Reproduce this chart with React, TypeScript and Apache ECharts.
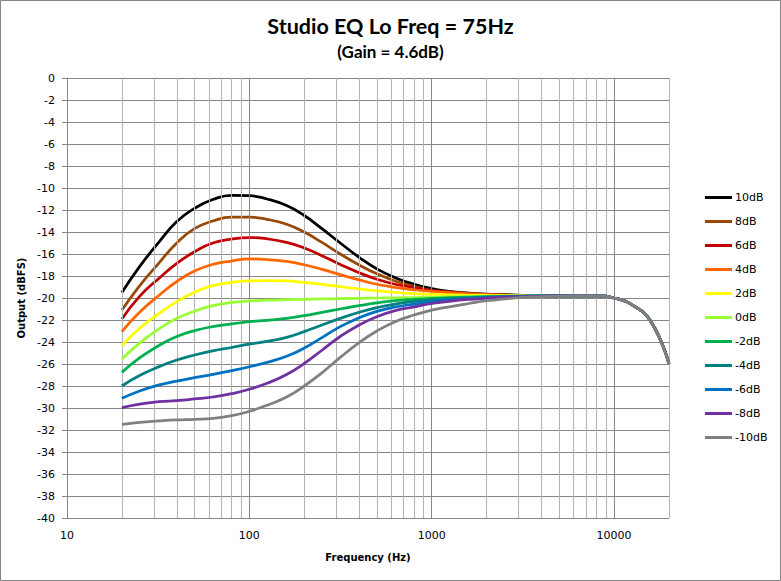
import React, { useEffect, useRef } from "react";
import * as echarts from "echarts";

// frequency points (Hz), third-octave steps
const freqs = [
  20, 25, 32, 40, 50, 63, 80, 100, 125, 160, 200, 250, 315, 400, 500, 630,
  800, 1000, 1250, 1600, 2000, 2500, 3150, 4000, 5000, 6300, 8000, 10000,
  12500, 16000, 20000,
];

const gain10 = [-19.5, -17.15, -14.9, -13.05, -11.85, -11.05, -10.67, -10.7, -11.0, -11.6, -12.5, -13.7, -15.0, -16.3, -17.35, -18.15, -18.75, -19.15, -19.4, -19.55, -19.65, -19.7, -19.75, -19.78, -19.8, -19.8, -19.8, -20.0, -20.6, -22.2, -26.0];
const gain8 = [-21.1, -18.9, -16.8, -15.0, -13.7, -13.0, -12.65, -12.65, -12.85, -13.3, -14.0, -14.95, -16.0, -17.0, -17.8, -18.45, -18.95, -19.3, -19.45, -19.58, -19.66, -19.72, -19.76, -19.79, -19.8, -19.8, -19.8, -20.0, -20.6, -22.2, -26.0];
const gain6 = [-21.9, -19.85, -18.2, -16.85, -15.8, -15.0, -14.64, -14.5, -14.62, -14.95, -15.45, -16.15, -16.95, -17.7, -18.3, -18.75, -19.05, -19.3, -19.47, -19.6, -19.68, -19.73, -19.77, -19.8, -19.8, -19.8, -19.8, -20.0, -20.6, -22.2, -26.0];
const gain4 = [-23.06, -21.3, -19.75, -18.5, -17.55, -16.94, -16.64, -16.45, -16.5, -16.68, -16.98, -17.4, -17.88, -18.35, -18.75, -19.03, -19.25, -19.4, -19.52, -19.62, -19.7, -19.75, -19.78, -19.8, -19.8, -19.8, -19.8, -20.0, -20.6, -22.2, -26.0];
const gain2 = [-24.33, -22.75, -21.4, -20.33, -19.48, -18.88, -18.58, -18.45, -18.42, -18.45, -18.58, -18.76, -18.97, -19.18, -19.36, -19.5, -19.6, -19.67, -19.72, -19.75, -19.77, -19.78, -19.79, -19.8, -19.8, -19.8, -19.8, -20.0, -20.6, -22.2, -26.0];
const gain0 = [-25.55, -24.1, -22.8, -21.85, -21.2, -20.7, -20.4, -20.27, -20.2, -20.15, -20.12, -20.09, -20.06, -20.03, -20.0, -19.98, -19.96, -19.94, -19.9, -19.87, -19.85, -19.83, -19.82, -19.81, -19.8, -19.8, -19.8, -20.0, -20.6, -22.2, -26.0];
const gainM2 = [-26.76, -25.45, -24.3, -23.5, -22.97, -22.6, -22.36, -22.15, -22.03, -21.85, -21.6, -21.3, -21.0, -20.7, -20.45, -20.24, -20.12, -20.03, -19.97, -19.92, -19.88, -19.85, -19.82, -19.8, -19.8, -19.8, -19.8, -20.0, -20.6, -22.2, -26.0];
const gainM4 = [-28.0, -27.05, -26.24, -25.64, -25.18, -24.8, -24.5, -24.2, -23.95, -23.58, -23.06, -22.45, -21.85, -21.3, -20.88, -20.55, -20.33, -20.18, -20.07, -19.98, -19.92, -19.87, -19.83, -19.81, -19.8, -19.8, -19.8, -20.0, -20.6, -22.2, -26.0];
const gainM6 = [-29.12, -28.45, -27.9, -27.55, -27.24, -26.94, -26.6, -26.25, -25.85, -25.3, -24.55, -23.6, -22.6, -21.8, -21.22, -20.82, -20.55, -20.33, -20.18, -20.05, -19.97, -19.9, -19.85, -19.82, -19.8, -19.8, -19.8, -20.0, -20.6, -22.2, -26.0];
const gainM8 = [-29.97, -29.64, -29.42, -29.33, -29.18, -29.0, -28.7, -28.3, -27.75, -26.95, -25.95, -24.75, -23.5, -22.45, -21.7, -21.15, -20.8, -20.5, -20.3, -20.13, -20.02, -19.93, -19.87, -19.83, -19.8, -19.8, -19.8, -20.0, -20.6, -22.2, -26.0];
const gainM10 = [-31.48, -31.3, -31.18, -31.09, -31.03, -30.94, -30.7, -30.3, -29.75, -29.0, -28.0, -26.8, -25.4, -24.05, -23.0, -22.15, -21.55, -21.1, -20.8, -20.5, -20.25, -20.08, -19.95, -19.88, -19.82, -19.8, -19.8, -20.0, -20.6, -22.2, -26.0];

const seriesNames = ["10dB", "8dB", "6dB", "4dB", "2dB", "0dB", "-2dB", "-4dB", "-6dB", "-8dB", "-10dB"];
const seriesValues = [gain10, gain8, gain6, gain4, gain2, gain0, gainM2, gainM4, gainM6, gainM8, gainM10];
const seriesColors = ["#000000", "#984807", "#C00000", "#FF6600", "#FFFF00", "#99FF33", "#00B050", "#008080", "#0070C0", "#7030A0", "#808080"];

// vertical grid lines of the log axis
const majorGridFreqs = [100, 1000, 10000];
const minorGridFreqs = [
  20, 30, 40, 50, 60, 70, 80, 90,
  200, 300, 400, 500, 600, 700, 800, 900,
  2000, 3000, 4000, 5000, 6000, 7000, 8000, 9000, 20000,
];

const labelFont = "DejaVu Sans";

const App: React.FC = () => {
  const chartRef = useRef<HTMLDivElement>(null);

  useEffect(() => {
    if (!chartRef.current) return;
    const chart = echarts.init(chartRef.current, undefined, { renderer: "svg" });

    const vline = (list: number[], color: string) => ({
      silent: true,
      symbol: ["none", "none"],
      label: { show: false },
      lineStyle: { color, width: 1, type: "solid" },
      emphasis: { disabled: true },
      data: list.map((f) => ({ xAxis: f })),
    });

    const option = {
      animation: false,
      backgroundColor: "#ffffff",
      title: [
        {
          text: "Studio EQ Lo Freq = 75Hz",
          left: "center",
          top: 15,
          padding: 0,
          textStyle: { fontFamily: "Lato", fontWeight: "bold", fontSize: 21.5, color: "#000" },
        },
        {
          text: "(Gain = 4.6dB)",
          left: "center",
          top: 43,
          padding: 0,
          textStyle: { fontFamily: "Lato", fontWeight: "bold", fontSize: 17, color: "#000" },
        },
      ],
      graphic: [
        {
          type: "rect",
          shape: { x: 0.5, y: 0.5, width: 780, height: 580 },
          style: { fill: "none", stroke: "#868686", lineWidth: 1 },
          silent: true,
        },
      ],
      legend: {
        orient: "vertical",
        left: 705,
        top: 192,
        padding: 0,
        itemWidth: 27,
        itemHeight: 3,
        itemGap: 13,
        icon: "rect",
        data: seriesNames,
        textStyle: { fontFamily: labelFont, fontSize: 11, color: "#000", padding: [0, 0, 0, -2] },
      },
      grid: {
        left: 67,
        right: 112,
        top: 78,
        bottom: 63,
        containLabel: false,
        outerBoundsMode: "none",
      },
      xAxis: {
        type: "log",
        logBase: 10,
        min: 10,
        max: 20000,
        name: "Frequency (Hz)",
        nameLocation: "middle",
        nameGap: 34,
        nameTextStyle: { fontFamily: labelFont, fontWeight: "bold", fontSize: 10, color: "#000" },
        axisLine: { show: true, lineStyle: { color: "#868686", width: 1 } },
        axisTick: { show: true, length: 5, lineStyle: { color: "#868686" } },
        axisLabel: {
          margin: 12,
          fontFamily: labelFont,
          fontSize: 11,
          color: "#000",
          formatter: (v: number) => (Math.round(v) >= 20000 ? "" : String(Math.round(v))),
        },
        splitLine: { show: false },
      },
      yAxis: {
        type: "value",
        min: -40,
        max: 0,
        interval: 2,
        name: "Output (dBFS)",
        nameLocation: "middle",
        nameGap: 29,
        nameRotate: 90,
        nameTextStyle: { fontFamily: labelFont, fontWeight: "bold", fontSize: 10, color: "#000" },
        axisLine: { show: true, lineStyle: { color: "#868686", width: 1 } },
        axisTick: { show: true, length: 5, lineStyle: { color: "#868686" } },
        axisLabel: { margin: 12, fontFamily: labelFont, fontSize: 11, color: "#000" },
        splitLine: { show: true, lineStyle: { color: "#868686", width: 1 } },
      },
      series: [
        {
          name: "_gridMinor",
          type: "line",
          data: [],
          z: 1,
          silent: true,
          markLine: vline(minorGridFreqs, "#b4b4b4"),
        },
        {
          name: "_gridMajor",
          type: "line",
          data: [],
          z: 1,
          silent: true,
          markLine: vline(majorGridFreqs, "#868686"),
        },
        ...seriesNames.map((name, i) => ({
          name,
          type: "line",
          data: freqs.map((f, j) => [f, seriesValues[i][j]]),
          smooth: 0.5,
          showSymbol: false,
          symbol: "none",
          z: 2 + i,
          lineStyle: { color: seriesColors[i], width: 2.75 },
          itemStyle: { color: seriesColors[i] },
          emphasis: { disabled: true },
        })),
      ],
    };

    chart.setOption(option as any);

    return () => {
      chart.dispose();
    };
  }, []);

  return (
    <div
      ref={chartRef}
      style={{ position: "absolute", left: 0, top: 0, width: "781px", height: "581px", background: "#fff" }}
    />
  );
};

export default App;
